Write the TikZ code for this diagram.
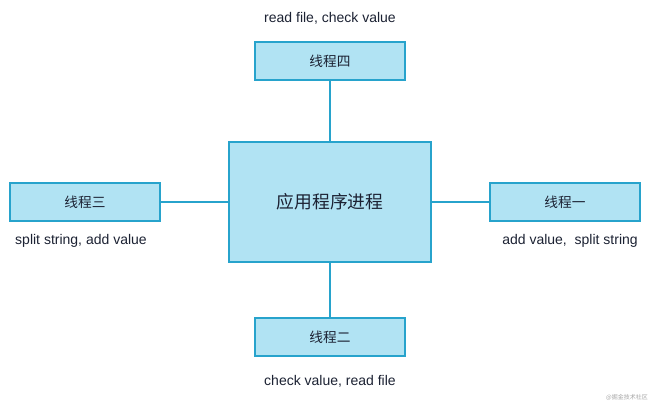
\documentclass[tikz,border=0pt]{standalone}
\usepackage{fontspec}
\setmainfont{Liberation Sans}
\newfontfamily\cjk{Noto Sans CJK SC}
\usetikzlibrary{positioning}
\definecolor{boxfill}{HTML}{B1E3F3}
\definecolor{boxline}{HTML}{27A3CC}
\definecolor{txt}{HTML}{1C2233}

\begin{document}
\begin{tikzpicture}[x=1pt, y=-1pt,
  box/.style={draw=boxline, fill=boxfill, line width=2pt, align=center, inner sep=0pt, text=txt, font=\cjk\fontsize{13.7}{16}\selectfont},
  th/.style={box, minimum width=150pt, minimum height=38pt},
  note/.style={text=txt, inner sep=0pt, font=\fontsize{14}{16}\selectfont},
  ln/.style={draw=boxline, line width=2pt}
]
\useasboundingbox[fill=white] (0,0) rectangle (662,408);
\node[box, minimum width=202pt, minimum height=120pt, font=\cjk\fontsize{17.8}{20}\selectfont] (app) at (330,202) {应用程序进程};
\node[th] (t4) at (330,61) {线程四};
\node[th] (t3) at (85,202) {线程三};
\node[th] (t1) at (565,202) {线程一};
\node[th] (t2) at (330,337) {线程二};
\node[note] (n4) at (330,18) {read file, check value};
\node[note] (n3) at (81,241) {split string, add value};
\node[note] (n1) at (570,241) {add value,\ \ split string};
\node[note] (n2) at (330,381) {check value, read file};
\node[text=gray!70, inner sep=0pt, font=\cjk\fontsize{6}{7}\selectfont] (wm) at (627,397) {@掘金技术社区};
\draw[ln] (app.north) -- (t4.south);
\draw[ln] (app.west) -- (t3.east);
\draw[ln] (app.east) -- (t1.west);
\draw[ln] (app.south) -- (t2.north);
\end{tikzpicture}
\end{document}
